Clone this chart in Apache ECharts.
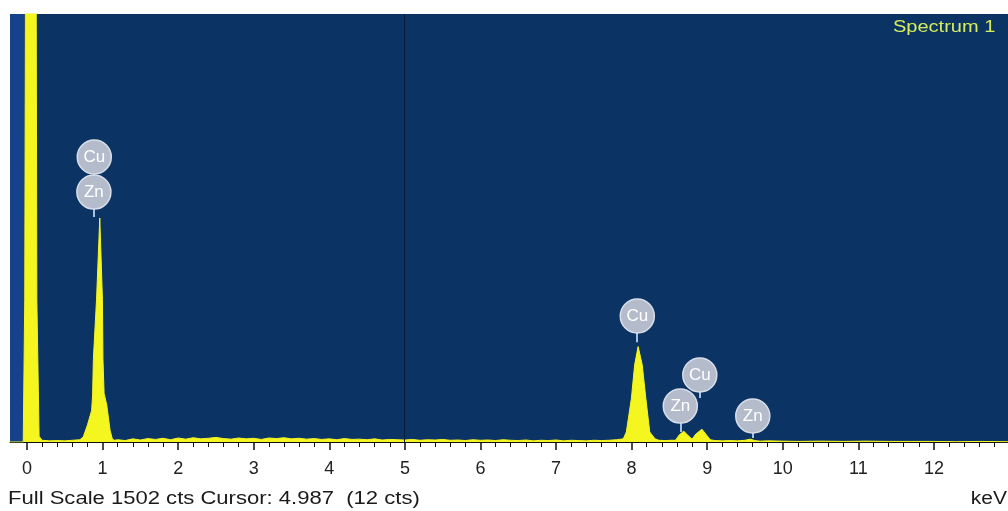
<!DOCTYPE html>
<html><head><meta charset="utf-8">
<script src="https://cdn.jsdelivr.net/npm/echarts@6/dist/echarts.min.js"></script>
<style>html,body{margin:0;padding:0;background:#fff}#c{width:1008px;height:511px}</style>
</head><body><div id="c"></div>
<script>
// Spectrum energies (keV) and counts
const keV = [-0.225,-0.05,-0.03,-0.01,0.11,0.13,0.16,0.20,0.30,0.40,0.50,0.60,0.70,0.745,0.80,0.855,0.868,0.878,0.92,0.963,0.998,1.005,1.02,1.055,1.10,1.13,1.16,
  1.2,1.3,1.4,1.5,1.6,1.7,1.8,1.9,2.0,2.1,2.2,2.3,2.4,2.5,2.6,2.7,2.8,2.9,3.0,3.1,3.2,3.3,3.4,3.5,3.6,3.7,3.8,3.9,4.0,4.1,4.2,4.3,4.4,4.5,4.6,4.7,4.8,4.9,
  5.0,5.1,5.2,5.3,5.4,5.5,5.6,5.7,5.8,5.9,6.0,6.1,6.2,6.3,6.4,6.5,6.6,6.7,6.8,6.9,7.0,7.1,7.2,7.3,7.4,7.5,7.6,7.7,7.8,
  7.89,7.93,7.997,8.04,8.086,8.14,8.188,8.24,8.31,8.36,8.45,8.52,8.58,8.63,8.69,8.75,8.80,8.85,8.93,8.99,9.04,9.10,9.20,9.30,9.40,9.50,9.57,9.63,9.70,9.80,
  10.0,10.2,10.5,10.8,11.1,11.4,11.7,12.0,12.3,12.6,12.98];
const cts = [0,0,500,3000,3000,500,20,6,4,5,4,6,8,18,60,110,165,290,500,786,500,290,170,130,40,10,6,
  8,5,11,7,12,9,13,8,14,10,15,11,13,16,12,10,14,11,13,9,14,12,15,11,13,10,12,9,11,8,12,9,10,8,11,7,9,8,
  7,9,6,8,7,9,6,7,5,8,6,7,5,8,6,5,7,4,6,5,7,4,6,5,4,6,5,6,8,
  11,35,153,271,335,271,153,35,11,6,5,6,6,25,38,22,10,28,45,25,8,5,4,5,4,6,10,5,3,4,
  3,2,3,2,3,2,2,2,1,2,1];

const fullScale = 1502;
const cursorKeV = 4.987;

const majorTicks = [0,1,2,3,4,5,6,7,8,9,10,11,12];
const minorTicks = [0.2,0.4,0.6,0.8,1.2,1.4,1.6,1.8,2.2,2.4,2.6,2.8,3.2,3.4,3.6,3.8,4.2,4.4,4.6,4.8,
  5.2,5.4,5.6,5.8,6.2,6.4,6.6,6.8,7.2,7.4,7.6,7.8,8.2,8.4,8.6,8.8,9.2,9.4,9.6,9.8,
  10.2,10.4,10.6,10.8,11.2,11.4,11.6,11.8,12.2,12.4,12.6,12.8];

// Element labels
const peakNames = ['Cu','Zn','Cu','Cu','Zn','Zn'];
const peakKeV = [0.89,0.885,8.075,8.902,8.644,9.603];
const peakCts = [1000,877,442,235,126,91];
// Label stems
const stemKeV = [0.88,8.065,8.90,8.644,9.60];
const stemTop = [1000,442,235,126,91];
const stemBottom = [790,350,154,35,14];

const specData = keV.map((k,i)=>[k,cts[i]]);
const stems = stemKeV.map((k,i)=>[{coord:[k,stemTop[i]]},{coord:[k,stemBottom[i]]}]);

const chart = echarts.init(document.getElementById('c'));
chart.setOption({
  animation:false,
  backgroundColor:'#ffffff',
  grid:{left:10,right:0,top:14,bottom:69,show:true,backgroundColor:'#0b3465',borderWidth:0},
  xAxis:[{
    type:'value',min:-0.225,max:12.98,position:'bottom',
    axisLine:{show:true,onZero:false,lineStyle:{color:'#111',width:1}},
    axisTick:{show:true,customValues:majorTicks,length:8,lineStyle:{color:'#111',width:1.5}},
    axisLabel:{show:true,customValues:majorTicks,margin:18,color:'#222',fontSize:18,
      fontFamily:'"Liberation Sans", Arial, sans-serif',formatter:v=>String(Math.round(v))},
    splitLine:{show:false}
  },{
    type:'value',min:-0.225,max:12.98,position:'bottom',gridIndex:0,
    axisLine:{show:false},
    axisTick:{show:true,customValues:minorTicks,length:5,lineStyle:{color:'#111',width:1}},
    axisLabel:{show:false},splitLine:{show:false}
  }],
  yAxis:{type:'value',min:0,max:fullScale,show:false,splitLine:{show:false}},
  series:[{
    type:'line',data:specData,xAxisIndex:0,yAxisIndex:0,showSymbol:false,clip:true,z:2,
    lineStyle:{color:'#f5f520',width:1},
    areaStyle:{color:'#f5f520',opacity:1},
    markArea:{silent:true,itemStyle:{color:'#15428a'},data:[[{xAxis:-0.225},{xAxis:-0.04}]]},
    markLine:{silent:true,symbol:['none','none'],label:{show:false},
      lineStyle:{color:'#a9c1e0',width:2,type:'solid'},
      data:[{xAxis:cursorKeV,lineStyle:{color:'#061a3c',width:1,type:'solid'}}].concat(stems)}
  },{
    type:'scatter',z:5,symbol:'circle',symbolSize:34,
    data:peakNames.map((n,i)=>({name:n,value:[peakKeV[i],peakCts[i]]})),
    itemStyle:{color:'#b4bccc',borderColor:'#d8dee8',borderWidth:1.5,opacity:1},
    label:{show:true,position:'inside',formatter:'{b}',color:'#ffffff',fontSize:17,
      fontFamily:'"Liberation Sans", Arial, sans-serif'}
  }],
  graphic:[
    {type:'text',x:893,y:27.5,scaleX:1.25,z:10,style:{text:'Spectrum 1',font:'16px "Liberation Sans", Arial, sans-serif',
      fill:'#d6ec5a',align:'left',textAlign:'left',verticalAlign:'middle',textVerticalAlign:'middle'}},
    {type:'text',x:8,y:499.5,scaleX:1.26,z:10,style:{text:'Full Scale 1502 cts Cursor: 4.987  (12 cts)',
      font:'17.5px "Liberation Sans", Arial, sans-serif',fill:'#1a1a1a',align:'left',textAlign:'left',verticalAlign:'middle',textVerticalAlign:'middle'}},
    {type:'text',x:1007,y:499.5,scaleX:1.2,z:10,style:{text:'keV',font:'17.5px "Liberation Sans", Arial, sans-serif',
      fill:'#1a1a1a',align:'right',textAlign:'right',verticalAlign:'middle',textVerticalAlign:'middle'}}
  ]
});
</script></body></html>
